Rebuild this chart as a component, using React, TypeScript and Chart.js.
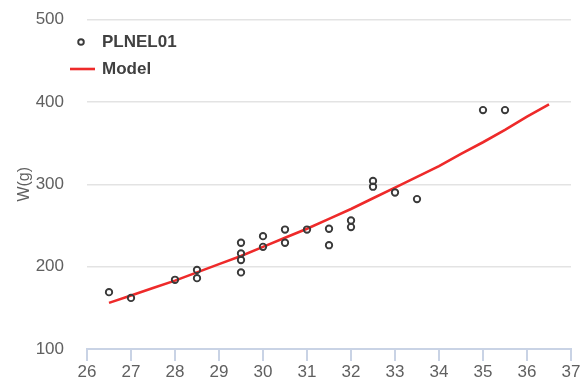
import { useEffect, useRef } from "react";
import { Chart, registerables } from "chart.js";

Chart.register(...registerables);

// Observed data (fish length in cm vs weight in g)
const lengthCm = [26.5, 27, 28, 28.5, 28.5, 29.5, 29.5, 29.5, 29.5, 30, 30, 30.5, 30.5, 31, 31.5, 31.5, 32, 32, 32.5, 32.5, 33, 33.5, 35, 35.5];
const weightG = [169, 162, 184, 196, 186, 229, 216, 208, 193, 237, 224, 245, 229, 245, 246, 226, 256, 248, 304, 297, 290, 282, 390, 390];

// Model curve
const modelLength = [26.5, 27, 27.5, 28, 28.5, 29, 29.5, 30, 30.5, 31, 31.5, 32, 32.5, 33, 33.5, 34, 34.5, 35, 35.5, 36, 36.5];
const modelWeight = [156, 165, 174, 183, 193, 203, 213, 224, 235, 246, 258, 270, 283, 296, 309, 322, 337, 351, 366, 382, 397];

const seriesLabels = ["PLNEL01", "Model"];
const yTitle = "W(g)";

export default function App() {
  const ref = useRef<HTMLCanvasElement>(null);

  useEffect(() => {
    document.body.style.margin = "0";
    Chart.defaults.font.family = "'Liberation Sans', Arial, sans-serif";

    const legendPlugin = {
      id: "customLegend",
      afterDraw(chart: any) {
        const ctx = chart.ctx;
        ctx.save();
        ctx.strokeStyle = "#3a3a3a";
        ctx.lineWidth = 1.9;
        ctx.beginPath();
        ctx.arc(81, 42, 2.8, 0, Math.PI * 2);
        ctx.stroke();
        ctx.strokeStyle = "#ee2a2a";
        ctx.lineWidth = 2.6;
        ctx.beginPath();
        ctx.moveTo(70, 69);
        ctx.lineTo(95, 69);
        ctx.stroke();
        ctx.fillStyle = "#404040";
        ctx.font = "bold 17px 'Liberation Sans', Arial, sans-serif";
        ctx.textBaseline = "middle";
        ctx.textAlign = "left";
        ctx.fillText(seriesLabels[0], 102, 42);
        ctx.fillText(seriesLabels[1], 102, 69);
        ctx.restore();
      },
    };

    const chart = new Chart(ref.current as HTMLCanvasElement, {
      type: "scatter",
      data: {
        datasets: [
          {
            label: seriesLabels[0],
            data: lengthCm.map((x, i) => ({ x, y: weightG[i] })),
            pointRadius: 3.2,
            pointBorderWidth: 1.9,
            borderColor: "#3a3a3a",
            backgroundColor: "rgba(0,0,0,0)",
            pointBackgroundColor: "rgba(0,0,0,0)",
            showLine: false,
          } as any,
          {
            label: seriesLabels[1],
            type: "line",
            data: modelLength.map((x, i) => ({ x, y: modelWeight[i] })),
            borderColor: "#ee2a2a",
            borderWidth: 2.6,
            pointRadius: 0,
            showLine: true,
            tension: 0,
            fill: false,
          } as any,
        ],
      },
      options: {
        animation: false,
        responsive: true,
        maintainAspectRatio: false,
        layout: { padding: { top: 19.5, right: 11, left: 0, bottom: 0 } },
        plugins: { legend: { display: false }, tooltip: { enabled: false } },
        scales: {
          x: {
            type: "linear",
            min: 26,
            max: 37,
            ticks: { stepSize: 1, color: "#606060", font: { size: 17 }, padding: 1 },
            grid: { drawOnChartArea: false, drawTicks: true, tickLength: 12, color: "#c9d3e5", lineWidth: 2 },
            border: { color: "#c9d3e5", width: 2 },
            afterFit: (s: any) => { s.height = 33; },
          },
          y: {
            type: "linear",
            min: 100,
            max: 500,
            ticks: { stepSize: 100, color: "#606060", font: { size: 17 }, padding: 23 },
            grid: { color: "#e3e3e3", lineWidth: 1.5, drawTicks: false },
            border: { display: false },
            title: { display: true, text: yTitle, color: "#606060", font: { size: 16 }, padding: { top: 15, bottom: 0 } },
            afterFit: (s: any) => { s.width = 87; s.paddingTop = 0; s.paddingBottom = 0; },
          },
        },
      },
      plugins: [legendPlugin],
    });
    return () => chart.destroy();
  }, []);

  return (
    <div style={{ width: 582, height: 382, position: "relative" }}>
      <canvas ref={ref} />
    </div>
  );
}
